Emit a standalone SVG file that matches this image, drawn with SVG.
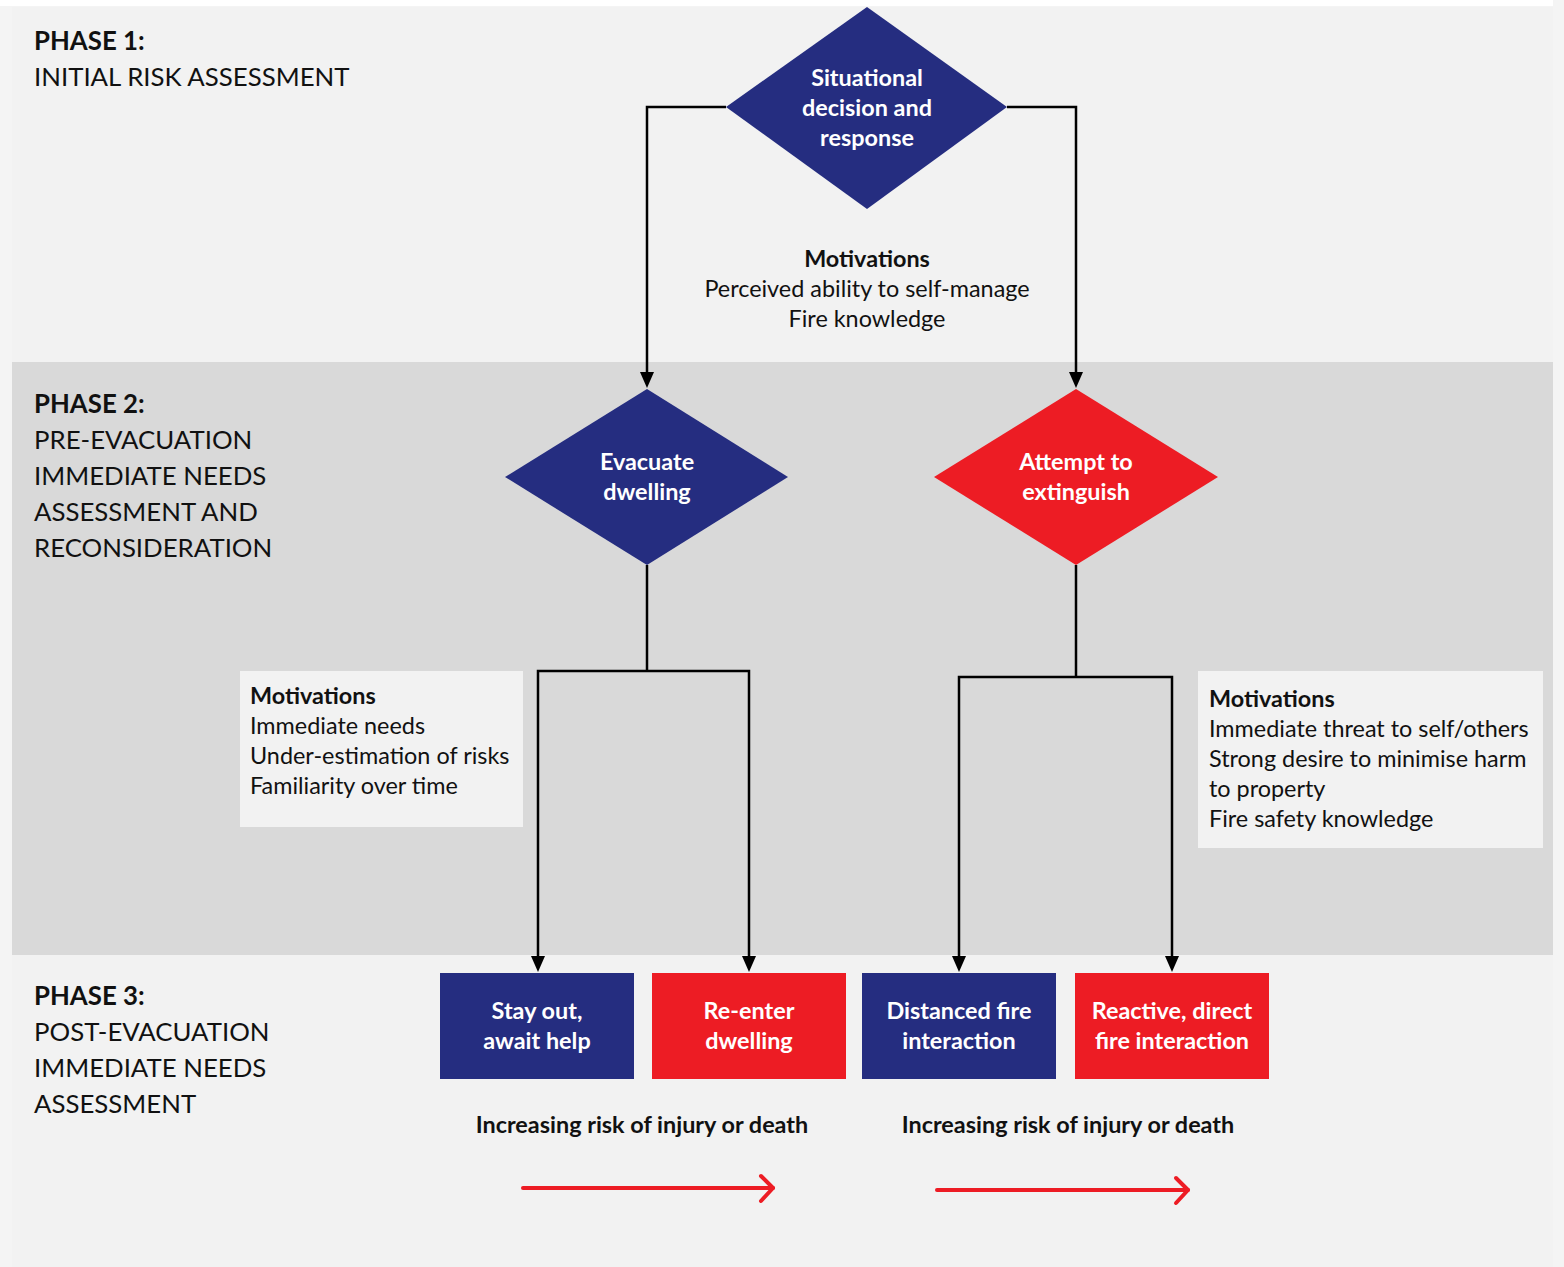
<svg xmlns="http://www.w3.org/2000/svg" width="1564" height="1267" viewBox="0 0 1564 1267">
<style>
text{font-family:Lato,"Liberation Sans",sans-serif;}
.ph{font-size:25.8px;fill:#111;}
.phb{font-size:25.8px;font-weight:bold;fill:#111;}
.nl{font-size:23.4px;font-weight:bold;fill:#fff;text-anchor:middle;}
.mot{font-size:23.4px;fill:#111;}
.motb{font-size:23.4px;font-weight:bold;fill:#111;}
.risk{font-size:23.4px;font-weight:bold;fill:#111;text-anchor:middle;}
.blue{fill:#252d80;}
.red{fill:#ed1c24;}
.conn{fill:none;stroke:#000;stroke-width:2.5;}
.ah{fill:#000;}
.rarrow{fill:none;stroke:#ed1c24;stroke-width:4;stroke-linecap:round;stroke-linejoin:round;}
</style>
<rect x="0" y="0" width="1564" height="1267" fill="#f4f4f4"/>
<rect x="0" y="0" width="1553" height="6" fill="#ffffff"/>
<rect x="12" y="7" width="1541" height="1260" fill="#f2f2f2"/>
<rect x="12" y="362" width="1541" height="593" fill="#d9d9d9"/>

<g id="phase1-label">
<text class="phb" x="34" y="50">PHASE 1:</text>
<text class="ph" x="34" y="86">INITIAL RISK ASSESSMENT</text>
</g>
<g id="phase2-label">
<text class="phb" x="34" y="413">PHASE 2:</text>
<text class="ph" x="34" y="449">PRE-EVACUATION</text>
<text class="ph" x="34" y="485">IMMEDIATE NEEDS</text>
<text class="ph" x="34" y="521">ASSESSMENT AND</text>
<text class="ph" x="34" y="557">RECONSIDERATION</text>
</g>
<g id="phase3-label">
<text class="phb" x="34" y="1005">PHASE 3:</text>
<text class="ph" x="34" y="1041">POST-EVACUATION</text>
<text class="ph" x="34" y="1077">IMMEDIATE NEEDS</text>
<text class="ph" x="34" y="1113">ASSESSMENT</text>
</g>

<g id="connectors">
<polyline class="conn" points="726,107 647,107 647,374"/>
<polygon class="ah" points="640,372 654,372 647,388"/>
<polyline class="conn" points="1007,107 1076,107 1076,374"/>
<polygon class="ah" points="1069,372 1083,372 1076,388"/>
<polyline class="conn" points="647,565 647,671"/>
<polyline class="conn" points="538,958 538,671 749,671 749,958"/>
<polygon class="ah" points="531,956 545,956 538,972"/>
<polygon class="ah" points="742,956 756,956 749,972"/>
<polyline class="conn" points="1076,565 1076,677"/>
<polyline class="conn" points="959,958 959,677 1172,677 1172,958"/>
<polygon class="ah" points="952,956 966,956 959,972"/>
<polygon class="ah" points="1165,956 1179,956 1172,972"/>
</g>

<g id="situational">
<polygon class="blue" points="867,7 1007,107 867,209 726,107"/>
<text class="nl" x="867" y="86">Situational</text>
<text class="nl" x="867" y="116">decision and</text>
<text class="nl" x="867" y="146">response</text>
</g>
<g id="motivations-top">
<text class="motb" x="867" y="267" text-anchor="middle">Motivations</text>
<text class="mot" x="867" y="297" text-anchor="middle">Perceived ability to self-manage</text>
<text class="mot" x="867" y="327" text-anchor="middle">Fire knowledge</text>
</g>
<g id="evacuate">
<polygon class="blue" points="647,389 788,477 647,565 505,477"/>
<text class="nl" x="647" y="470">Evacuate</text>
<text class="nl" x="647" y="500">dwelling</text>
</g>
<g id="extinguish">
<polygon class="red" points="1076,389 1218,477 1076,565 934,477"/>
<text class="nl" x="1076" y="470">Attempt to</text>
<text class="nl" x="1076" y="500">extinguish</text>
</g>
<g id="motivations-left">
<rect x="240" y="671" width="283" height="156" fill="#f2f2f2"/>
<text class="motb" x="250" y="704">Motivations</text>
<text class="mot" x="250" y="734">Immediate needs</text>
<text class="mot" x="250" y="764">Under-estimation of risks</text>
<text class="mot" x="250" y="794">Familiarity over time</text>
</g>
<g id="motivations-right">
<rect x="1198" y="671" width="345" height="177" fill="#f2f2f2"/>
<text class="motb" x="1209" y="707">Motivations</text>
<text class="mot" x="1209" y="737">Immediate threat to self/others</text>
<text class="mot" x="1209" y="767">Strong desire to minimise harm</text>
<text class="mot" x="1209" y="797">to property</text>
<text class="mot" x="1209" y="827">Fire safety knowledge</text>
</g>
<g id="stay-out">
<rect class="blue" x="440" y="973" width="194" height="106"/>
<text class="nl" x="537" y="1019">Stay out,</text>
<text class="nl" x="537" y="1049">await help</text>
</g>
<g id="re-enter">
<rect class="red" x="652" y="973" width="194" height="106"/>
<text class="nl" x="749" y="1019">Re-enter</text>
<text class="nl" x="749" y="1049">dwelling</text>
</g>
<g id="distanced">
<rect class="blue" x="862" y="973" width="194" height="106"/>
<text class="nl" x="959" y="1019">Distanced fire</text>
<text class="nl" x="959" y="1049">interaction</text>
</g>
<g id="reactive">
<rect class="red" x="1075" y="973" width="194" height="106"/>
<text class="nl" x="1172" y="1019">Reactive, direct</text>
<text class="nl" x="1172" y="1049">fire interaction</text>
</g>
<g id="risk-left">
<text class="risk" x="642" y="1133">Increasing risk of injury or death</text>
<polyline class="rarrow" points="523,1188 773,1188"/>
<polyline class="rarrow" points="761,1176 773,1188 761,1201"/>
</g>
<g id="risk-right">
<text class="risk" x="1068" y="1133">Increasing risk of injury or death</text>
<polyline class="rarrow" points="937,1190 1188,1190"/>
<polyline class="rarrow" points="1176,1178 1188,1190 1176,1203"/>
</g>
</svg>
